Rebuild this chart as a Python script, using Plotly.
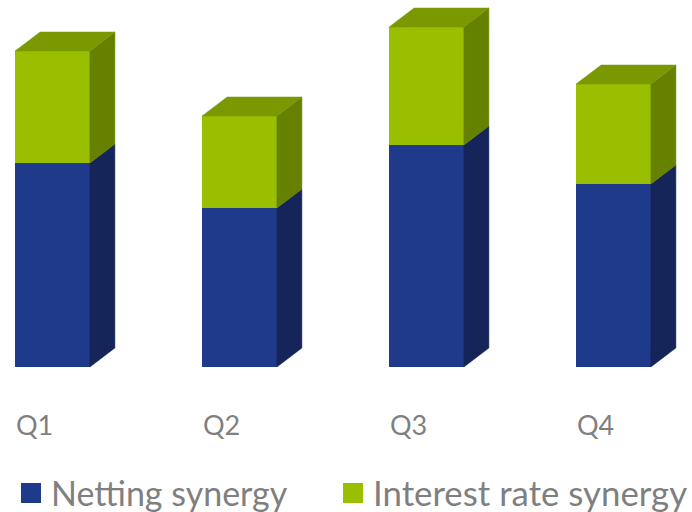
import plotly.graph_objects as go

# ---- data ----
categories = ["Q1", "Q2", "Q3", "Q4"]
netting = [204, 159, 222, 183]
interest = [112, 92, 118, 100]
series_names = ["Netting synergy", "Interest rate synergy"]

# ---- style ----
W, H = 692, 512
BLUE_FRONT = "rgb(31,58,138)"
BLUE_SIDE = "rgb(21,37,90)"
GREEN_FRONT = "rgb(153,191,0)"
GREEN_SIDE = "rgb(102,128,0)"
GREEN_TOP = "rgb(122,153,0)"
TEXT = "rgb(127,127,127)"
FONT = "Lato"

BAR_W = 0.4
PX_PER_X = 187.0
DX = 25 / PX_PER_X
DY = 19
X0 = -52.5 / PX_PER_X
Y_BASE_PX = 367

xs = list(range(len(categories)))

fig = go.Figure()

# front faces
fig.add_trace(go.Bar(x=xs, y=netting, width=BAR_W, name=series_names[0],
                     marker=dict(color=BLUE_FRONT, line=dict(width=0)),
                     showlegend=False, hoverinfo="skip"))
fig.add_trace(go.Bar(x=xs, y=interest, width=BAR_W, name=series_names[1],
                     marker=dict(color=GREEN_FRONT, line=dict(width=0)),
                     showlegend=False, hoverinfo="skip"))


def poly(xp, yp, color):
    fig.add_trace(go.Scatter(x=xp + [xp[0]], y=yp + [yp[0]], mode="lines",
                             fill="toself", fillcolor=color,
                             line=dict(color=color, width=0.5),
                             showlegend=False, hoverinfo="skip"))


for i, (n, g) in enumerate(zip(netting, interest)):
    x0 = xs[i] - BAR_W / 2
    x1 = xs[i] + BAR_W / 2
    t = n + g
    # side faces
    poly([x1, x1 + DX, x1 + DX, x1], [0, DY, n + DY, n], BLUE_SIDE)
    poly([x1, x1 + DX, x1 + DX, x1], [n, n + DY, t + DY, t], GREEN_SIDE)
    # top face
    poly([x0, x0 + DX, x1 + DX, x1], [t, t + DY, t + DY, t], GREEN_TOP)

annotations = []
for i, c in enumerate(categories):
    annotations.append(dict(x=xs[i] - BAR_W / 2, y=Y_BASE_PX - 424, xref="x", yref="y",
                            text=c, showarrow=False, xanchor="left", yanchor="middle",
                            font=dict(family=FONT, size=27, color=TEXT), borderpad=0))

# custom legend
shapes = []
legend_items = [(series_names[0], BLUE_FRONT, 21, 34), (series_names[1], GREEN_FRONT, 343, 34.8)]
for name, col, px, fs in legend_items:
    shapes.append(dict(type="rect", xref="paper", yref="paper",
                       x0=px / W, x1=(px + 20) / W, y0=1 - 503 / H, y1=1 - 483 / H,
                       fillcolor=col, line=dict(width=0)))
    annotations.append(dict(x=(px + 29) / W, y=1 - 492 / H, xref="paper", yref="paper",
                            text=name, showarrow=False, xanchor="left", yanchor="middle",
                            font=dict(family=FONT, size=fs, color=TEXT), borderpad=0))

fig.update_layout(
    width=W, height=H,
    margin=dict(l=0, r=0, t=0, b=0),
    paper_bgcolor="white", plot_bgcolor="white",
    barmode="stack",
    xaxis=dict(visible=False, range=[X0, X0 + W / PX_PER_X], fixedrange=True),
    yaxis=dict(visible=False, range=[Y_BASE_PX - H, Y_BASE_PX], fixedrange=True),
    shapes=shapes, annotations=annotations,
    showlegend=False,
)

fig.write_html("out.html",
               config={"displayModeBar": False, "staticPlot": True},
               post_script="document.body.style.margin='0px';document.body.style.overflow='hidden';")
